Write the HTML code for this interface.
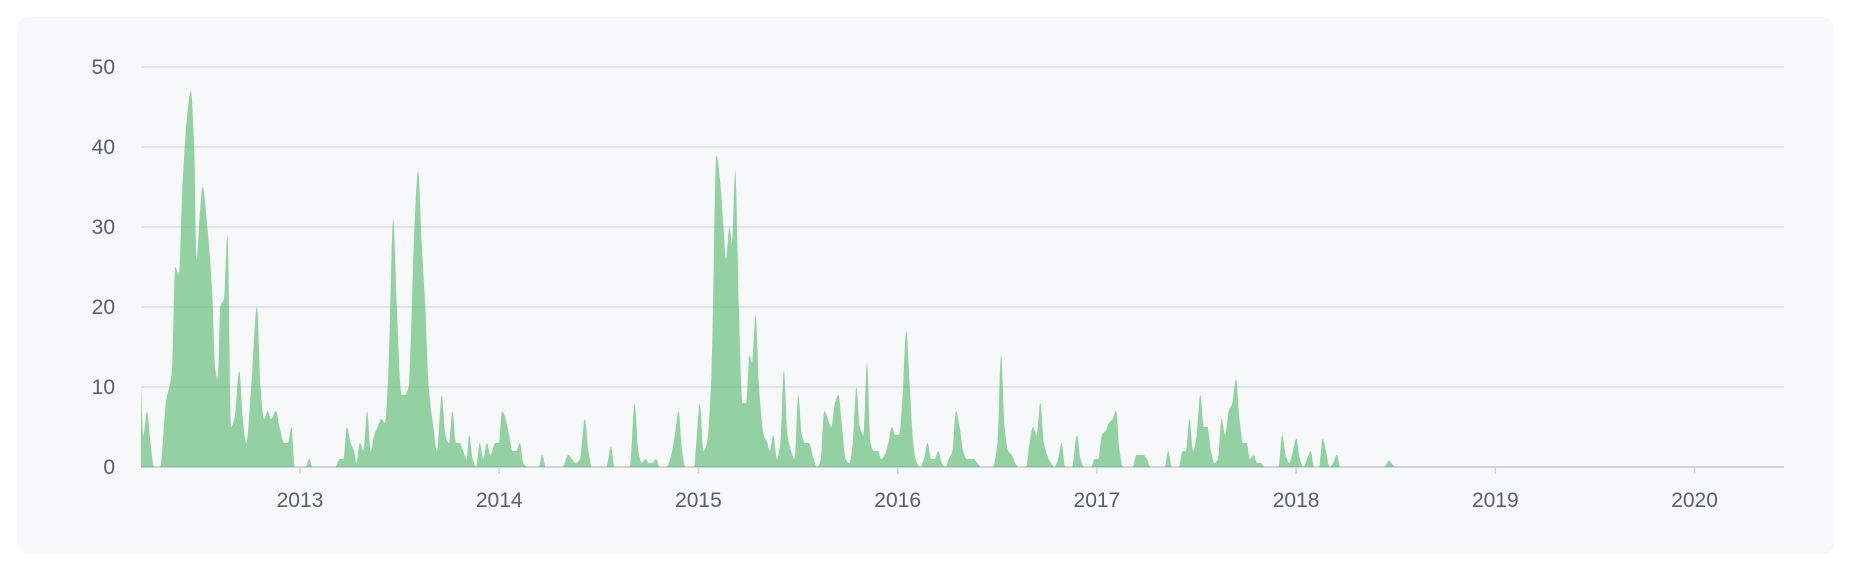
<!DOCTYPE html>
<html><head><meta charset="utf-8">
<style>
html,body{margin:0;padding:0;background:#fff;width:1856px;height:570px;overflow:hidden}
#card{position:absolute;left:17px;top:17px;width:1817px;height:537px;background:#f6f8fa;border-radius:12px}
svg{position:absolute;left:0;top:0}
text{font-family:"Liberation Sans",sans-serif;font-size:21px;fill:#586069}
</style></head><body>
<div id="card"></div>
<svg id="chart" width="1856" height="570"></svg>
<script>
const dates=[2012.202,2012.214,2012.232,2012.250,2012.267,2012.297,2012.327,2012.357,2012.374,2012.392,2012.410,2012.434,2012.452,2012.469,2012.481,2012.493,2012.511,2012.535,2012.559,2012.576,2012.588,2012.600,2012.618,2012.636,2012.654,2012.671,2012.695,2012.713,2012.731,2012.755,2012.784,2012.802,2012.820,2012.838,2012.856,2012.879,2012.897,2012.921,2012.939,2012.957,2012.974,2013.028,2013.046,2013.064,2013.177,2013.200,2013.218,2013.236,2013.254,2013.272,2013.283,2013.301,2013.319,2013.337,2013.355,2013.373,2013.390,2013.408,2013.426,2013.444,2013.468,2013.486,2013.510,2013.527,2013.545,2013.575,2013.593,2013.611,2013.629,2013.646,2013.670,2013.688,2013.712,2013.730,2013.748,2013.765,2013.783,2013.801,2013.819,2013.837,2013.849,2013.867,2013.884,2013.902,2013.920,2013.938,2013.956,2013.980,2013.998,2014.014,2014.032,2014.050,2014.068,2014.086,2014.104,2014.121,2014.139,2014.198,2014.216,2014.234,2014.317,2014.347,2014.365,2014.383,2014.406,2014.430,2014.448,2014.466,2014.537,2014.561,2014.579,2014.656,2014.680,2014.698,2014.716,2014.733,2014.751,2014.769,2014.787,2014.805,2014.840,2014.858,2014.882,2014.900,2014.918,2014.935,2014.977,2014.995,2015.007,2015.025,2015.043,2015.066,2015.090,2015.108,2015.126,2015.138,2015.156,2015.168,2015.185,2015.203,2015.221,2015.239,2015.257,2015.269,2015.287,2015.304,2015.328,2015.346,2015.358,2015.376,2015.394,2015.411,2015.429,2015.447,2015.465,2015.483,2015.501,2015.519,2015.536,2015.554,2015.578,2015.596,2015.614,2015.632,2015.650,2015.667,2015.685,2015.703,2015.721,2015.739,2015.757,2015.775,2015.793,2015.810,2015.828,2015.846,2015.864,2015.882,2015.900,2015.918,2015.935,2015.953,2015.971,2015.989,2016.007,2016.025,2016.043,2016.061,2016.078,2016.096,2016.114,2016.132,2016.150,2016.168,2016.186,2016.204,2016.221,2016.239,2016.257,2016.275,2016.293,2016.311,2016.329,2016.347,2016.364,2016.382,2016.400,2016.418,2016.477,2016.501,2016.519,2016.537,2016.555,2016.573,2016.590,2016.608,2016.644,2016.662,2016.680,2016.698,2016.716,2016.734,2016.751,2016.769,2016.787,2016.805,2016.823,2016.841,2016.876,2016.900,2016.918,2016.936,2016.971,2016.989,2017.007,2017.025,2017.043,2017.061,2017.079,2017.097,2017.114,2017.132,2017.180,2017.198,2017.215,2017.233,2017.251,2017.269,2017.340,2017.358,2017.376,2017.412,2017.430,2017.447,2017.465,2017.483,2017.501,2017.519,2017.537,2017.555,2017.573,2017.590,2017.608,2017.626,2017.644,2017.662,2017.680,2017.698,2017.716,2017.733,2017.751,2017.769,2017.787,2017.805,2017.823,2017.841,2017.912,2017.930,2017.948,2017.966,2017.984,2018.001,2018.019,2018.037,2018.055,2018.073,2018.091,2018.115,2018.133,2018.150,2018.168,2018.186,2018.204,2018.222,2018.442,2018.466,2018.484,2018.502,2020.449];
const commits=[10,4,7,3,0,0,8,12,25,24,35,44,47,40,26,30,35,30,22,12,11,20,21,29,5,6,12,6,3,10,20,10,6,7,6,7,5,3,3,5,0,0,1,0,0,1,1,5,3,2,0.5,3,2,7,2,4,5,6,5.5,12,31,20,9,9,10,30,37,28,20,10,5,2,9,4,3,7,3,3,2,1,4,1,0,3,1,3,1.5,3,3,7,6,4,2,2,3,0.5,0,0,1.5,0,0,1.5,1,0.5,1,6,2,0,0,2.5,0,0,8,2,0.5,1,0.5,0.5,1,0,0,1,4,7,2,0,0,5,8,2,3,12,39,36,30,26,30,28,37,20,8,8,14,13,19,10,4,3,2,4,1,3,12,4,2,1,9,4,3,3,1,0,1,7,6,5,8,9,5,1,0.5,3,10,5,4,13,3,2,2,1,1.5,3,5,4,4,9,17,10,3,0.5,0,1,3,1,1,2,0.5,0,1,2,7,5,2,1,1,1,0.5,0,0,3,14,5,2,1.5,0.5,0,0,3,5,4,8,3,1.5,0.5,0,1,3,0,0,4,1,0,0,1,1,4,4.5,5.5,6,7,2,0,0,1.5,1.5,1.5,1,0,0,2,0,0,2,2,6,2,4,9,5,5,2,0.5,1,6,4,7,8,11,6,3,3,1,1.5,0.5,0.5,0,0,4,1.5,0.5,2,3.5,1,0,1,2,0,0,3.5,2,0,0.5,1.5,0,0,0.8,0.3,0,0];
const yTicks=[0,10,20,30,40,50];
const xTicks=[2013,2014,2015,2016,2017,2018,2019,2020];
const NS="http://www.w3.org/2000/svg";
const svg=document.getElementById('chart');
const x0=141,x1=1784,y0=467,y1=67;
const t0=2012.202,t1=2020.449;
function xs(t){return x0+(t-t0)/(t1-t0)*(x1-x0);}
function ys(v){return y0-v/50*(y0-y1);}
function mk(tag,attrs){const e=document.createElementNS(NS,tag);for(const k in attrs)e.setAttribute(k,attrs[k]);svg.appendChild(e);return e;}
yTicks.forEach(v=>{
  const l=mk('line',{x1:x0,x2:x1,y1:ys(v),y2:ys(v),stroke:v===0?'#d1d5da':'#e1e4e8','stroke-width':2});
  
  
  const t=mk('text',{x:115,y:ys(v)+7,'text-anchor':'end'});t.textContent=v;
  
  
});
xTicks.forEach(v=>{
  const tk=mk('line',{x1:xs(v),x2:xs(v),y1:y0,y2:y0+7,stroke:'#d1d5da','stroke-width':1.5});
  
  
  const t=mk('text',{x:xs(v),y:507,'text-anchor':'middle'});t.textContent=v;
  
  
});
const px=dates.map(xs),py=commits.map(ys),n=px.length;
const m=new Array(n).fill(0),d=[];
for(let i=0;i<n-1;i++)d.push((py[i+1]-py[i])/(px[i+1]-px[i]));
for(let i=1;i<n-1;i++){if(d[i-1]*d[i]<=0)m[i]=0;else{const h0=px[i]-px[i-1],h1=px[i+1]-px[i];m[i]=3*(h0+h1)/((2*h1+h0)/d[i-1]+(h1+2*h0)/d[i]);}}
m[0]=d[0];m[n-1]=d[n-2];
let p='M'+px[0]+','+y0+'L'+px[0]+','+py[0];
for(let i=0;i<n-1;i++){const h=(px[i+1]-px[i])/3;p+='C'+(px[i]+h)+','+(py[i]+m[i]*h)+' '+(px[i+1]-h)+','+(py[i+1]-m[i+1]*h)+' '+px[i+1]+','+py[i+1];}
p+='L'+px[n-1]+','+y0+'Z';
const area=mk('path',{d:p,fill:'#28a745','fill-opacity':0.48});


</script>
</body></html>
